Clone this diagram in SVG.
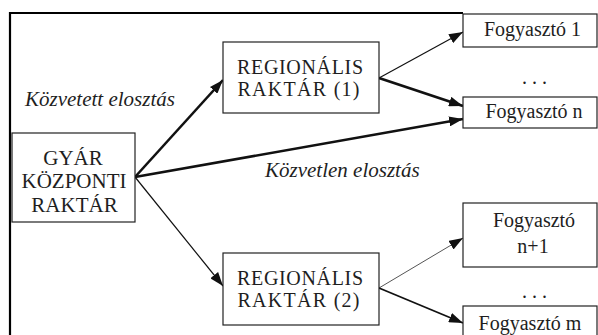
<svg xmlns="http://www.w3.org/2000/svg" width="598" height="335" viewBox="0 0 598 335">
  <style>
    .box { fill: #ffffff; stroke: #222222; stroke-width: 1.2; }
    .lbl { font-size: 21px; fill: #1e1e1e; text-anchor: middle; }
    .reg { font-size: 20px; }
    .sm { font-size: 20px; }
    .it { font-style: italic; font-size: 21px; fill: #1e1e1e; }
    .frame { stroke: #000000; stroke-width: 2.2; fill: none; }
    .edge { stroke: #111111; fill: none; }
    .thick { stroke-width: 2.6; }
    .mid { stroke-width: 1.8; }
    .thin { stroke-width: 1.2; }
    .faint { stroke-width: 1; stroke: #555555; }
  </style>
  <defs>
    <marker id="arrow" viewBox="0 0 14 10" refX="14" refY="5" markerWidth="14" markerHeight="10" markerUnits="userSpaceOnUse" orient="auto">
      <path d="M0,0 L14,5 L0,10 Z" fill="#111111"/>
    </marker>
  </defs>

  <rect width="598" height="335" fill="#ffffff"/>

  <!-- outer frame (top and left edges) -->
  <path class="frame" d="M10,335 V13 H463"/>

  <!-- connectors -->
  <g id="connectors">
    <line class="edge thick" x1="135" y1="177" x2="223" y2="80" marker-end="url(#arrow)"/>
    <line class="edge thick" x1="135" y1="177" x2="463" y2="119" marker-end="url(#arrow)"/>
    <line class="edge thin" x1="135" y1="177" x2="223" y2="286" marker-end="url(#arrow)"/>
    <line class="edge thin" x1="379" y1="78" x2="463" y2="32" marker-end="url(#arrow)"/>
    <line class="edge thick" x1="379" y1="78" x2="463" y2="106" marker-end="url(#arrow)"/>
    <line class="edge faint" x1="379" y1="288" x2="463" y2="238" marker-end="url(#arrow)"/>
    <line class="edge mid" x1="379" y1="288" x2="463" y2="323" marker-end="url(#arrow)"/>
  </g>

  <g font-family="Liberation Serif, Times New Roman, serif">
    <!-- source warehouse -->
    <g id="gyar">
      <rect class="box" x="12" y="133" width="123" height="89"/>
      <text class="lbl" x="73" y="165">GYÁR</text>
      <text class="lbl" x="74" y="188">KÖZPONTI</text>
      <text class="lbl" x="74.5" y="212">RAKTÁR</text>
    </g>

    <!-- regional warehouses -->
    <g id="regionalis-1">
      <rect class="box" x="223" y="42" width="156" height="71"/>
      <text class="lbl reg" x="300" y="74" textLength="126" lengthAdjust="spacing">REGIONÁLIS</text>
      <text class="lbl reg" x="298.5" y="96" textLength="122" lengthAdjust="spacing">RAKTÁR (1)</text>
    </g>
    <g id="regionalis-2">
      <rect class="box" x="223" y="253" width="156" height="72"/>
      <text class="lbl reg" x="300" y="285" textLength="126" lengthAdjust="spacing">REGIONÁLIS</text>
      <text class="lbl reg" x="298.5" y="307" textLength="122" lengthAdjust="spacing">RAKTÁR (2)</text>
    </g>

    <!-- consumers -->
    <g id="fogyaszto-1">
      <rect class="box" x="463" y="14" width="134" height="33"/>
      <text class="lbl sm" x="532.5" y="36">Fogyasztó 1</text>
    </g>
    <g id="fogyaszto-n">
      <rect class="box" x="463" y="97" width="134" height="31"/>
      <text class="lbl sm" x="534" y="118">Fogyasztó n</text>
    </g>
    <g id="fogyaszto-n1">
      <rect class="box" x="463" y="203" width="134" height="64"/>
      <text class="lbl sm" x="534" y="227">Fogyasztó</text>
      <text class="lbl sm" x="533" y="253">n+1</text>
    </g>
    <g id="fogyaszto-m">
      <rect class="box" x="463" y="306" width="134" height="40"/>
      <text class="lbl sm" x="530" y="330">Fogyasztó m</text>
    </g>

    <!-- ellipsis between consumers -->
    <text class="lbl sm" x="534.5" y="84" textLength="25" lengthAdjust="spacing">. . .</text>
    <text class="lbl sm" x="534.5" y="298" textLength="25" lengthAdjust="spacing">. . .</text>

    <!-- channel labels -->
    <text class="it" x="25" y="106">Közvetett elosztás</text>
    <text class="it" x="265" y="177">Közvetlen elosztás</text>
  </g>
</svg>
